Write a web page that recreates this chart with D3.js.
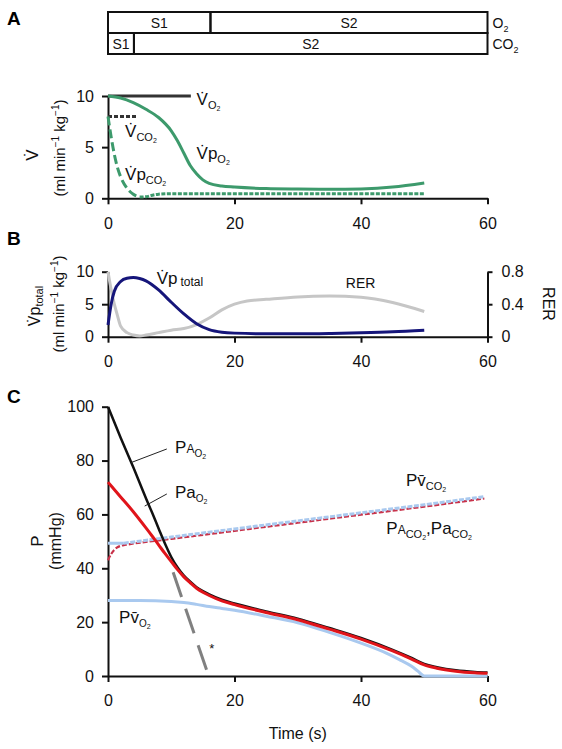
<!DOCTYPE html>
<html><head><meta charset="utf-8">
<script src="https://cdn.jsdelivr.net/npm/d3@7"></script>
<style>body{margin:0;background:#fff} svg{display:block;font-family:"Liberation Sans",Arial,sans-serif}</style>
</head><body><svg id="c" width="562" height="749"></svg>
<script>
// ---------- data ----------
const xTickVals=[0,20,40,60];
const phaseNames=['S1','S2'];
const o2Bounds=[0,16.2,60];
const co2Bounds=[0,4.1,60];

// Panel A
const vo2T=[0,13.1], vo2V=[10,10];
const vco2T=[0,4.7], vco2V=[8,8];
const vpo2T=[0,2,4,6,8,10,11,12,13,14,15,16,18,20,25,30,35,40,45,50];
const vpo2V=[10,9.8,9.35,8.7,7.9,6.6,5.6,4.4,3.2,2.4,1.8,1.45,1.2,1.1,0.95,0.9,0.88,0.92,1.1,1.5];
const vpco2T=[0,0.5,1,1.5,2,3,4,5,6,7,8,10,20,30,40,50];
const vpco2V=[8,6.0,4.3,3.0,2.1,1.0,0.4,0.12,0.15,0.3,0.4,0.45,0.45,0.45,0.45,0.45];

// Panel B
const vptotT=[0,0.5,1,2,3,4,5,6,8,10,12,14,16,18,20,25,30,35,40,45,50];
const vptotV=[1.8,5.0,7.0,8.5,9.0,9.1,8.95,8.6,7.2,5.3,3.5,2.0,1.1,0.7,0.55,0.45,0.45,0.5,0.6,0.75,1.0];
const rerT=[0,0.5,1,1.5,2,3,4,5,6,8,10,12,14,16,18,20,22,25,30,35,40,45,50];
const rerV=[0.8,0.58,0.4,0.26,0.13,0.05,0.02,0.01,0.02,0.05,0.08,0.1,0.15,0.23,0.33,0.4,0.44,0.46,0.49,0.5,0.485,0.42,0.31];

// Panel C
const pAO2T=[0,2,4,6,7,8,9,10,11,12,13,14,15,16,18,20,25,30,35,40,45,48,50,52,55,58,60];
const pAO2V=[100,88.5,77.5,66,60.5,54.8,49.2,44.2,40.3,37.3,35,33,31.5,30.3,28.3,26.9,24,21.3,17.8,14.1,9.7,6.7,4.5,3.3,2.1,1.5,1.3];
const paO2T=[0,2,4,6,7,8,9,10,11,12,13,14,15,16,18,20,25,30,35,40,45,48,50,52,55,58,60];
const paO2V=[72,66.5,61,55,51.9,48.7,45.5,42.5,39.5,36.8,34.6,32.6,31.1,29.9,27.9,26.5,23.6,20.9,17.4,13.7,9.3,6.3,4.1,2.9,1.8,1.2,1.0];
const pvO2T=[0,5,10,12,14,16,18,20,25,30,35,40,44,46,48,49,50,55,60];
const pvO2V=[28,28,27.7,27.3,26.6,25.8,25.1,24.4,22.2,19.8,16.2,12.2,8.5,6.2,3.6,1.8,0,0,0];
const pvCO2T=[0,1,2.5,10,20,30,40,50,59.5];
const pvCO2V=[49.3,49.3,49.3,51.6,54.6,57.6,60.6,63.6,66.6];
const paCO2T=[0,0.5,1,1.5,2,2.5,3,10,20,30,40,50,59.5];
const paCO2V=[43,45.3,46.9,47.8,48.3,48.6,48.8,50.9,53.9,56.9,59.9,62.9,65.9];
const starT=[10.3,15.7], starV=[38.5,1.5];

// ---------- helpers ----------
const pts=(T,V)=>T.map((t,i)=>[t,V[i]]);
const svg=d3.select('#c');
const FONT='"Liberation Sans", Arial, sans-serif';
const x=d3.scaleLinear().domain([0,60]).range([108,487.5]);
const yA=d3.scaleLinear().domain([0,10]).range([198.3,96]);
const yB=d3.scaleLinear().domain([0,10]).range([336.7,271.7]);
const yR=d3.scaleLinear().domain([0,0.8]).range([336.7,271.7]);
const yC=d3.scaleLinear().domain([0,100]).range([676,406.7]);

function rich(sel,xx,yy,parts,opts={}){
  const t=sel.append('text').attr('x',xx).attr('y',yy).attr('fill','#111').attr('font-family',FONT);
  if(opts.transform) t.attr('transform',opts.transform);
  if(opts.anchor) t.attr('text-anchor',opts.anchor);
  let cur=0;
  parts.forEach(p=>{
    const d=(p.dy||0)-cur; cur=p.dy||0;
    const s=t.append('tspan').attr('font-size',p.s).attr('dy',d).text(p.t);
    if(p.dx) s.attr('dx',p.dx);
  });
  return t;
}
function styleAxis(g){
  g.attr('font-family',FONT).attr('font-size',16);
  g.selectAll('.domain').attr('stroke','#111').attr('stroke-width',2);
  g.selectAll('.tick line').attr('stroke','#111').attr('stroke-width',2);
  g.selectAll('.tick text').attr('fill','#111');
}
function line(yS,curve){return d3.line().x(d=>x(d[0])).y(d=>yS(d[1])).curve(curve||d3.curveMonotoneX);}
function draw(data,yS,color,w,dash){
  const p=svg.append('path').datum(data).attr('d',line(yS)).attr('fill','none')
    .attr('stroke',color).attr('stroke-width',w).attr('stroke-linejoin','round');
  if(dash) p.attr('stroke-dasharray',dash);
  return p;
}

// ---------- panel letters ----------
[['A',25],['B',245],['C',403]].forEach(([l,yy])=>svg.append('text').attr('x',7).attr('y',yy)
  .attr('font-family',FONT).attr('font-weight','bold').attr('font-size',19).text(l));

// ---------- phase bars ----------
const rows=[{b:o2Bounds,y0:12,y1:33,lab:'O'},{b:co2Bounds,y0:33,y1:54,lab:'CO'}];
rows.forEach(r=>{
  for(let i=0;i<r.b.length-1;i++){
    svg.append('rect').attr('x',x(r.b[i])).attr('y',r.y0).attr('width',x(r.b[i+1])-x(r.b[i]))
      .attr('height',r.y1-r.y0).attr('fill','none').attr('stroke','#111').attr('stroke-width',2);
    svg.append('text').attr('x',(x(r.b[i])+x(r.b[i+1]))/2).attr('y',(r.y0+r.y1)/2+5)
      .attr('text-anchor','middle').attr('font-family',FONT).attr('font-size',14).attr('fill','#111').text(phaseNames[i]);
  }
  rich(svg,x(60)+5,(r.y0+r.y1)/2+5,[{t:r.lab,s:14},{t:'2',s:9,dy:4}]);
});

// ---------- panel A ----------
svg.append('g').attr('transform',`translate(0,${yA(0)})`)
  .call(d3.axisBottom(x).tickValues(xTickVals).tickSize(6).tickPadding(13).tickSizeOuter(0)).call(styleAxis);
svg.append('g').attr('transform',`translate(${x(0)},0)`)
  .call(d3.axisLeft(yA).tickValues([0,5,10]).tickSize(6).tickPadding(8).tickSizeOuter(0)).call(styleAxis);

draw(pts(vo2T,vo2V),yA,'#333',3);
draw(pts(vco2T,vco2V),yA,'#333',3,'4,2');
draw(pts(vpo2T,vpo2V),yA,'#3d9a6c',3);
draw(pts(vpco2T,vpco2V).filter(d=>d[0]<=5),yA,'#3d9a6c',3,'9,4');
draw(pts(vpco2T,vpco2V).filter(d=>d[0]>=5),yA,'#3d9a6c',3,'4,1.5');

rich(svg,x(14.0),yA(9.1),[{t:'V\u0307',s:17},{t:'O',s:11,dy:4},{t:'2',s:7,dy:6}]);
rich(svg,x(2.7),yA(6.0),[{t:'V\u0307',s:17},{t:'CO',s:11,dy:4},{t:'2',s:7,dy:6}]);
rich(svg,x(14.0),yA(3.84),[{t:'V\u0307p',s:17},{t:'O',s:11,dy:4},{t:'2',s:7,dy:6}]);
rich(svg,x(2.7),yA(1.8),[{t:'V\u0307p',s:17},{t:'CO',s:11,dy:4},{t:'2',s:7,dy:6}]);

const unitParts=[{t:'(ml min',s:15},{t:'\u22121',s:10,dy:-6},{t:' kg',s:15,dy:0},{t:'\u22121',s:10,dy:-6},{t:')',s:15,dy:0}];
rich(svg,0,0,[{t:'V\u0307',s:17}],{transform:`translate(38,${155}) rotate(-90)`,anchor:'middle'});
rich(svg,0,0,unitParts,{transform:`translate(65,${148}) rotate(-90)`,anchor:'middle'});

// ---------- panel B ----------
svg.append('g').attr('transform',`translate(0,${yB(0)})`)
  .call(d3.axisBottom(x).tickValues(xTickVals).tickSize(6).tickPadding(13).tickSizeOuter(0)).call(styleAxis);
svg.append('g').attr('transform',`translate(${x(0)},0)`)
  .call(d3.axisLeft(yB).tickValues([0,5,10]).tickSize(6).tickPadding(8).tickSizeOuter(0)).call(styleAxis);
svg.append('g').attr('transform',`translate(${x(60)},0)`)
  .call(d3.axisRight(yR).tickValues([0,0.4,0.8]).tickFormat(d=>d===0?'0':d3.format('.1f')(d))
  .tickSize(5).tickPadding(9).tickSizeOuter(0)).call(styleAxis);

draw(pts(rerT,rerV),yR,'#c6c6c6',3);
draw(pts(vptotT,vptotV),yB,'#15157a',3);

rich(svg,x(7.7),yB(8.1),[{t:'V\u0307p',s:17},{t:'total',s:12,dy:2,dx:3}]);
svg.append('text').attr('x',x(37.6)).attr('y',yB(7.45)).attr('font-family',FONT).attr('font-size',14).attr('fill','#111').text('RER');

rich(svg,0,0,[{t:'V\u0307p',s:16},{t:'total',s:11,dy:3}],{transform:`translate(40,${306}) rotate(-90)`,anchor:'middle'});
rich(svg,0,0,unitParts,{transform:`translate(64,${304}) rotate(-90)`,anchor:'middle'});
svg.append('text').attr('transform',`translate(543,${304}) rotate(90)`).attr('text-anchor','middle')
  .attr('font-family',FONT).attr('font-size',16).attr('fill','#111').text('RER');

// ---------- panel C ----------
svg.append('g').attr('transform',`translate(0,${yC(0)})`)
  .call(d3.axisBottom(x).tickValues(xTickVals).tickSize(6).tickPadding(13).tickSizeOuter(0)).call(styleAxis);
svg.append('g').attr('transform',`translate(${x(0)},0)`)
  .call(d3.axisLeft(yC).tickValues([0,20,40,60,80,100]).tickSize(6).tickPadding(8).tickSizeOuter(0)).call(styleAxis);

draw(pts(starT,starV),yC,'#808080',3,'26,12.5');
draw(pts(paCO2T,paCO2V),yC,'#c8324a',2.2,'5,2');
draw(pts(pvCO2T,pvCO2V).filter(d=>d[0]<=2.5),yC,'#a9c9ef',3);
draw(pts(pvCO2T,pvCO2V).filter(d=>d[0]>=2.5),yC,'#a9c9ef',3,'5,1.5');
draw(pts(pvO2T,pvO2V),yC,'#a9c9ef',3);
draw(pts(pAO2T,pAO2V),yC,'#111',2.5);
draw(pts(paO2T,paO2V),yC,'#e0141a',3);

// leader lines
const leaders=[[[3.6,79.2],[9.3,84.3]],[[5.8,63.1],[9.3,67.6]]];
leaders.forEach(l=>svg.append('line').attr('x1',x(l[0][0])).attr('y1',yC(l[0][1]))
  .attr('x2',x(l[1][0])).attr('y2',yC(l[1][1])).attr('stroke','#222').attr('stroke-width',1));

rich(svg,x(10.6),yC(82.9),[{t:'P',s:17},{t:'A',s:12},{t:'O',s:10,dy:4},{t:'2',s:7,dy:6}]);
rich(svg,x(10.6),yC(66),[{t:'Pa',s:17},{t:'O',s:10,dy:4},{t:'2',s:7,dy:6}]);
rich(svg,x(47.1),yC(70.6),[{t:'Pv\u0304',s:17},{t:'CO',s:11,dy:4},{t:'2',s:7,dy:6}]);
rich(svg,x(44),yC(52.6),[{t:'P',s:17},{t:'A',s:12},{t:'CO',s:11,dy:4},{t:'2',s:7,dy:6},{t:',',s:17,dy:0},{t:'Pa',s:17,dy:0},{t:'CO',s:11,dy:4},{t:'2',s:7,dy:6}]);
rich(svg,x(1.75),yC(19.6),[{t:'Pv\u0304',s:17},{t:'O',s:10,dy:4},{t:'2',s:7,dy:6}]);
svg.append('text').attr('x',x(16)).attr('y',yC(8.5)).attr('font-family',FONT).attr('font-size',13).attr('fill','#111').text('*');

rich(svg,0,0,[{t:'P',s:17}],{transform:`translate(43,${541}) rotate(-90)`,anchor:'middle'});
rich(svg,0,0,[{t:'(mmHg)',s:16}],{transform:`translate(61,${541}) rotate(-90)`,anchor:'middle'});
svg.append('text').attr('x',(x(0)+x(60))/2).attr('y',739).attr('text-anchor','middle')
  .attr('font-family',FONT).attr('font-size',16).attr('fill','#111').text('Time (s)');
</script></body></html>
